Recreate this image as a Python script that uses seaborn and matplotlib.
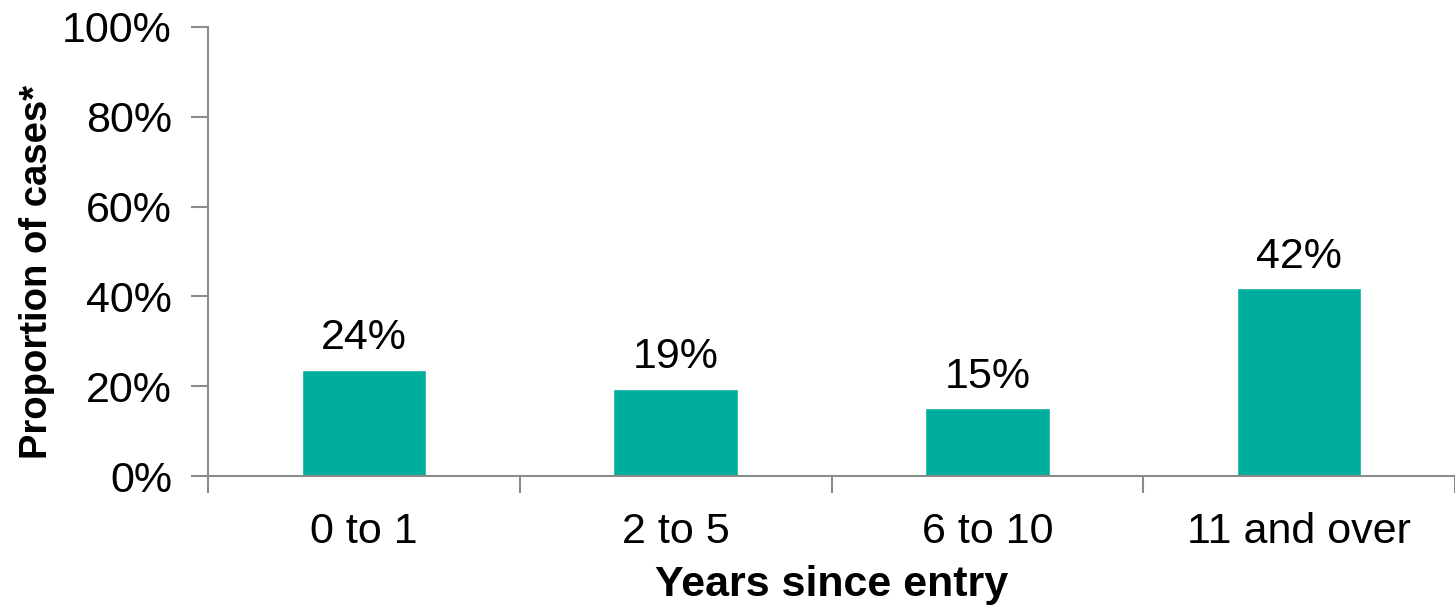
import matplotlib
matplotlib.use("Agg")
import matplotlib.pyplot as plt
import seaborn as sns
import pandas as pd
from matplotlib.ticker import FixedLocator, PercentFormatter

categories = ["0 to 1", "2 to 5", "6 to 10", "11 and over"]
values = [23.6, 19.4, 15.1, 41.8]
labels = ["24%", "19%", "15%", "42%"]
yticks = [0, 20, 40, 60, 80, 100]

sns.set_theme(style="white")
plt.rcParams["font.family"] = ["Liberation Sans", "DejaVu Sans"]
plt.rcParams["text.color"] = "black"
plt.rcParams["axes.labelcolor"] = "black"
plt.rcParams["xtick.labelcolor"] = "black"
plt.rcParams["ytick.labelcolor"] = "black"

df = pd.DataFrame({"cat": categories, "val": values})

fig = plt.figure(figsize=(14.55, 6.05), dpi=100)
ax = fig.add_axes([208 / 1455, 1 - 476 / 605, (1455 - 208) / 1455, (476 - 27) / 605])

sns.barplot(data=df, x="cat", y="val", color="#00AE9E", saturation=1, width=0.4, ax=ax)

for i, (v, t) in enumerate(zip(values, labels)):
    ax.text(i, v + 2.6, t, ha="center", va="bottom", fontsize=31, color="black")

ax.set_ylim(0, 100)
ax.set_xlim(-0.5, len(categories) - 0.5)
ax.set_yticks(yticks)
ax.yaxis.set_major_formatter(PercentFormatter(decimals=0))

ax.xaxis.set_minor_locator(FixedLocator([i - 0.5 for i in range(len(categories) + 1)]))
ax.tick_params(axis="x", which="major", length=0, pad=26, labelsize=31)
ax.tick_params(axis="x", which="minor", length=12, width=1.5, color="#8c8c8c", bottom=True, direction="out")
ax.tick_params(axis="y", which="major", length=12, width=1.5, color="#8c8c8c", left=True, direction="out", pad=14, labelsize=31)

for s in ["top", "right"]:
    ax.spines[s].set_visible(False)
for s in ["left", "bottom"]:
    ax.spines[s].set_color("#8c8c8c")
    ax.spines[s].set_linewidth(1.5)

ax.set_xlabel("Years since entry", fontsize=31, fontweight="bold", labelpad=9)
ax.set_ylabel("Proportion of cases*", fontsize=27.5, fontweight="bold")
ax.yaxis.set_label_coords(-0.1227, 0.454)

fig.savefig("out.png", dpi=100)
